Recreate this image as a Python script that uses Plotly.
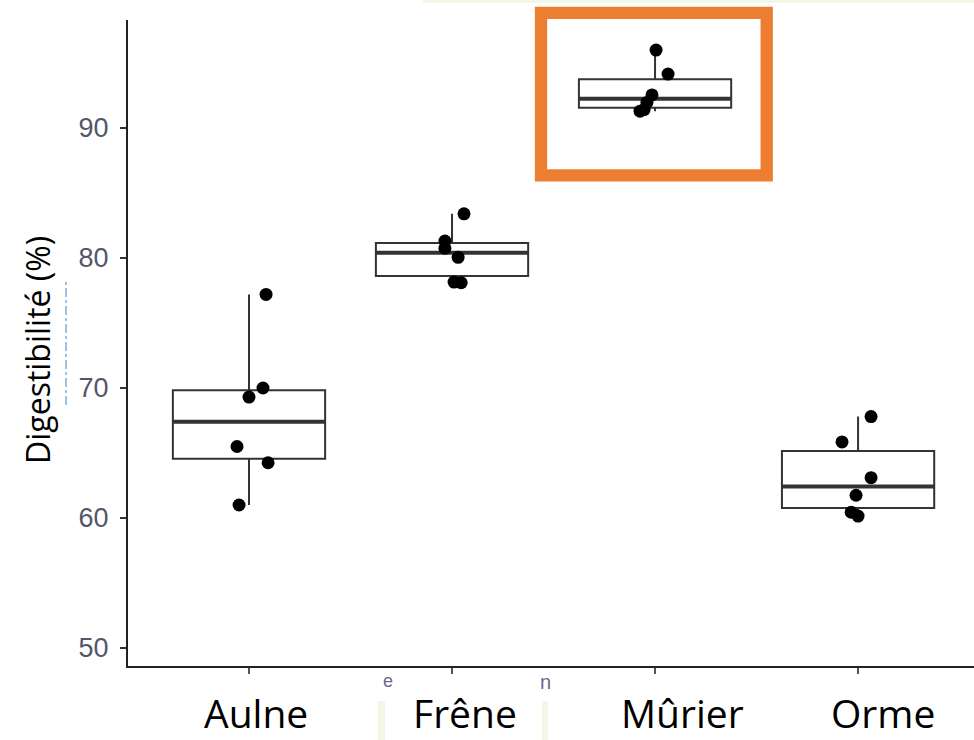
import numpy as np
import plotly.graph_objects as go

# ---- data ----
categories = ["Aulne", "Frêne", "Mûrier", "Orme"]
aulne = [77.2, 70.0, 69.3, 65.5, 64.25, 61.0]
frene = [83.4, 81.3, 80.75, 80.05, 78.15, 78.1]
murier = [96.0, 94.15, 92.55, 91.97, 91.42, 91.3]
orme = [67.8, 65.85, 63.1, 61.75, 60.45, 60.15]
# horizontal jitter of each point (category units)
jit_aulne = [0.084, 0.069, 0.0, -0.059, 0.094, -0.049]
jit_frene = [0.059, -0.035, -0.035, 0.03, 0.01, 0.045]
jit_murier = [0.005, 0.064, -0.015, -0.04, -0.054, -0.074]
jit_orme = [0.064, -0.079, 0.064, -0.01, -0.034, 0.0]
y_ticks = [50, 60, 70, 80, 90]
y_title = "Digestibilité (%)"

series = [aulne, frene, murier, orme]
jitters = [jit_aulne, jit_frene, jit_murier, jit_orme]

# ---- style ----
BOX_W = 0.75
LINE = "#333333"
label_xshift = [7, 13, 27, 25]


def stats(v):
    v = np.asarray(v, float)
    q1, med, q3 = np.percentile(v, [25, 50, 75])
    iqr = q3 - q1
    lo = v[v >= q1 - 1.5 * iqr].min()
    hi = v[v <= q3 + 1.5 * iqr].max()
    return q1, med, q3, lo, hi


st = [stats(s) for s in series]
idx = list(range(len(categories)))

fig = go.Figure()
fig.add_trace(go.Box(
    x=idx,
    q1=[s[0] for s in st], median=[s[1] for s in st], q3=[s[2] for s in st],
    lowerfence=[s[3] for s in st], upperfence=[s[4] for s in st],
    width=BOX_W, whiskerwidth=0, boxpoints=False,
    fillcolor="white", line=dict(color=LINE, width=2),
    hoverinfo="skip", showlegend=False,
))

# thicker median lines
mx, my = [], []
for i, s in zip(idx, st):
    mx += [i - BOX_W / 2, i + BOX_W / 2, None]
    my += [s[1], s[1], None]
fig.add_trace(go.Scatter(x=mx, y=my, mode="lines",
                         line=dict(color=LINE, width=4),
                         hoverinfo="skip", showlegend=False))

# points
px_, py_ = [], []
for i, s, j in zip(idx, series, jitters):
    px_ += [i + d for d in j]
    py_ += list(s)
fig.add_trace(go.Scatter(x=px_, y=py_, mode="markers",
                         marker=dict(color="black", size=13),
                         hoverinfo="skip", showlegend=False))

W, H = 974, 740
L, R, T, B = 128, 0, 20, 74
PW, PH = W - L - R, H - T - B


def pxx(x):
    return (x - L) / PW


def pxy(y):
    return (H - B - y) / PH


annotations = []
for i, (c, sh) in enumerate(zip(categories, label_xshift)):
    annotations.append(dict(
        x=i, xref="x", y=pxy(712), yref="paper", text=c, showarrow=False,
        xshift=sh, xanchor="center", yanchor="middle",
        font=dict(family="Open Sans", size=39, color="black")))
annotations.append(dict(
    x=pxx(37), xref="paper", y=pxy(350), yref="paper", text=y_title,
    textangle=-90, showarrow=False, xanchor="center", yanchor="middle",
    font=dict(family="Open Sans", size=32, color="black")))
# small pasted fragments
annotations.append(dict(x=pxx(381), xref="paper", y=pxy(693), yref="paper", text="e",
                        showarrow=False, font=dict(family="Liberation Sans", size=18, color="#6a6a8a")))
annotations.append(dict(x=pxx(545), xref="paper", y=pxy(695), yref="paper", text="n",
                        showarrow=False, font=dict(family="Liberation Sans", size=20, color="#6a6a8a")))

shapes = [
    # orange highlight frame
    dict(type="rect", xref="paper", yref="paper",
         x0=pxx(541), x1=pxx(766.7), y0=pxy(175.3), y1=pxy(12.9),
         line=dict(color="#ED7D31", width=12.3), fillcolor="rgba(0,0,0,0)", layer="above"),
    # light strips from the pasted screenshot
    dict(type="rect", xref="paper", yref="paper", x0=pxx(423), x1=pxx(974),
         y0=pxy(3), y1=pxy(0), line=dict(width=0), fillcolor="#F3F7E8", layer="below"),
    dict(type="rect", xref="paper", yref="paper", x0=pxx(378), x1=pxx(385),
         y0=pxy(740), y1=pxy(701), line=dict(width=0), fillcolor="#F3F7E8", layer="below"),
    dict(type="rect", xref="paper", yref="paper", x0=pxx(542), x1=pxx(548),
         y0=pxy(740), y1=pxy(701), line=dict(width=0), fillcolor="#F3F7E8", layer="below"),
    dict(type="line", xref="paper", yref="paper", x0=pxx(66), x1=pxx(66),
         y0=pxy(405), y1=pxy(280), line=dict(color="#7aaedc", width=1.5, dash="dashdot")),
]

fig.update_layout(
    width=W, height=H,
    margin=dict(l=L, r=R, t=T, b=B, pad=0),
    plot_bgcolor="white", paper_bgcolor="white",
    showlegend=False,
    annotations=annotations, shapes=shapes,
    xaxis=dict(range=[-0.596, 3.571], tickvals=idx, showticklabels=False,
               ticks="outside", ticklen=6, tickwidth=1.5, tickcolor="#555555",
               showline=True, linecolor="#222222", linewidth=2,
               showgrid=False, zeroline=False, fixedrange=True),
    yaxis=dict(range=[48.615, 98.31], tickvals=y_ticks,
               ticks="outside", ticklen=6, tickwidth=2, tickcolor="#333333",
               tickfont=dict(family="Liberation Sans", size=27, color="#55556a"),
               ticklabelstandoff=6,
               showline=True, linecolor="#222222", linewidth=2,
               showgrid=False, zeroline=False, fixedrange=True),
)

fig.write_html("out.html")
